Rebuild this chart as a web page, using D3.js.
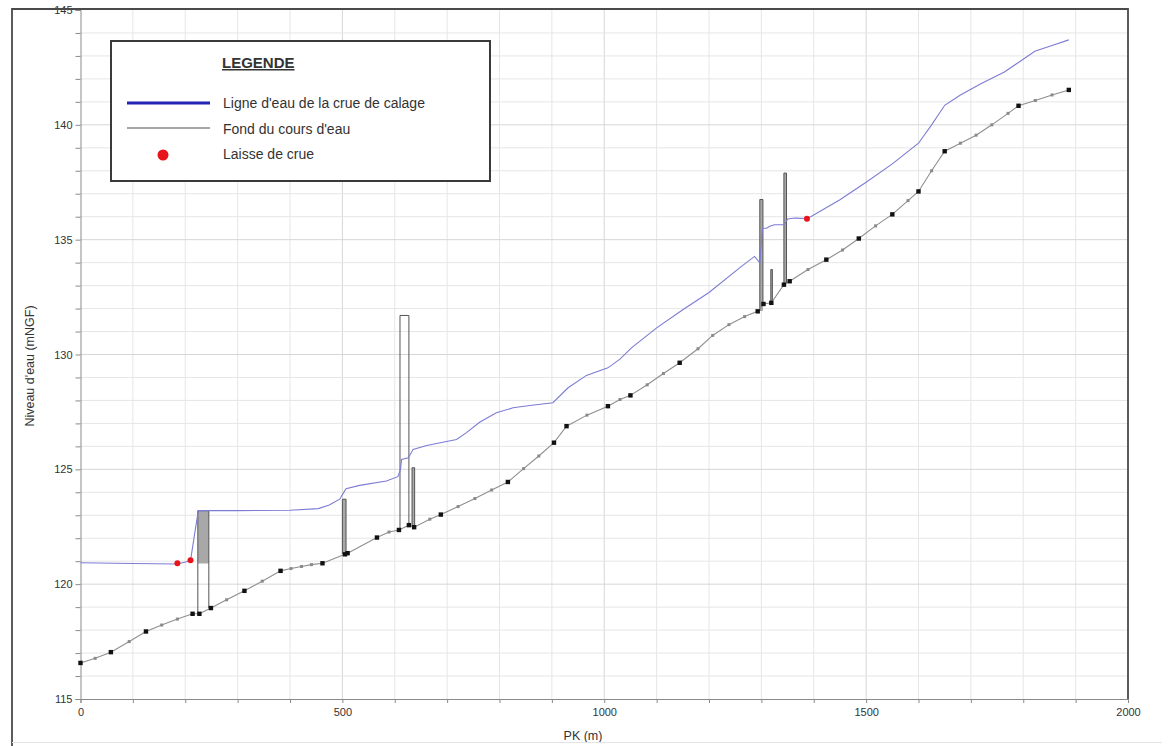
<!DOCTYPE html>
<html>
<head>
<meta charset="utf-8">
<script src="https://cdn.jsdelivr.net/npm/d3@7"></script>
<style>
  html, body { margin: 0; padding: 0; background: #fff; }
  svg { display: block; font-family: "Liberation Sans", Arial, sans-serif; }
</style>
</head>
<body>
<svg id="chart" width="1168" height="746"></svg>
<script>
// Longitudinal profile: water line of the calibration flood, river bed, flood marks, structures.

// Water line (PK in m, level in mNGF)
const waterPk = [0, 100, 185, 210, 218, 225, 300, 400, 454, 475, 495, 500, 507, 533, 584, 606, 611, 613, 626, 635, 661, 718, 737, 762, 794, 826, 858, 902, 931, 966, 1007, 1030, 1052, 1100, 1150, 1200, 1259, 1287, 1297, 1300, 1302, 1310, 1316, 1325, 1344, 1350, 1364, 1386, 1395, 1450, 1500, 1550, 1600, 1625, 1650, 1680, 1720, 1764, 1793, 1822, 1855, 1887];
const waterZ  = [120.93, 120.90, 120.88, 121.02, 122.2, 123.20, 123.20, 123.22, 123.29, 123.45, 123.70, 123.90, 124.16, 124.30, 124.49, 124.68, 125.0, 125.43, 125.50, 125.87, 126.04, 126.30, 126.60, 127.05, 127.46, 127.68, 127.78, 127.90, 128.55, 129.09, 129.42, 129.80, 130.29, 131.16, 131.95, 132.70, 133.78, 134.27, 133.99, 134.9, 135.50, 135.50, 135.58, 135.65, 135.65, 135.90, 135.94, 135.92, 136.01, 136.74, 137.50, 138.30, 139.20, 140.00, 140.85, 141.30, 141.80, 142.30, 142.75, 143.20, 143.45, 143.70];

// River bed (PK in m, level in mNGF) and profile kind (1 = surveyed section, 0 = interpolated)
const bedPk = [0, 28, 58, 93, 125, 155, 185, 214, 227, 249, 279, 313, 347, 382, 402, 422, 441, 462, 505, 510, 566, 589, 608, 627, 637, 667, 688, 721, 753, 785, 816, 846, 875, 904, 928, 967, 1007, 1030, 1050, 1082, 1113, 1144, 1179, 1207, 1238, 1268, 1293, 1304, 1319, 1343, 1354, 1389, 1424, 1455, 1486, 1518, 1550, 1580, 1600, 1625, 1650, 1680, 1710, 1740, 1771, 1791, 1823, 1855, 1887];
const bedZ  = [116.57, 116.77, 117.04, 117.50, 117.94, 118.22, 118.48, 118.71, 118.71, 118.96, 119.32, 119.71, 120.13, 120.58, 120.68, 120.77, 120.85, 120.91, 121.30, 121.35, 122.03, 122.27, 122.36, 122.57, 122.48, 122.83, 123.03, 123.38, 123.73, 124.10, 124.45, 125.03, 125.58, 126.16, 126.88, 127.36, 127.75, 128.04, 128.22, 128.68, 129.17, 129.64, 130.25, 130.83, 131.30, 131.65, 131.88, 132.20, 132.25, 133.04, 133.19, 133.70, 134.13, 134.55, 135.05, 135.60, 136.10, 136.70, 137.10, 138.00, 138.85, 139.20, 139.55, 140.00, 140.50, 140.83, 141.06, 141.30, 141.52];
const bedKind = [1, 0, 1, 0, 1, 0, 0, 1, 1, 1, 0, 1, 0, 1, 0, 0, 0, 1, 1, 1, 1, 0, 1, 1, 1, 0, 1, 0, 0, 0, 1, 0, 0, 1, 1, 0, 1, 0, 1, 0, 0, 1, 0, 0, 0, 0, 1, 1, 1, 1, 1, 0, 1, 0, 1, 0, 1, 0, 1, 0, 1, 0, 0, 0, 0, 1, 0, 0, 1];

// Flood marks (laisses de crue)
const markPk = [185, 210, 1387];
const markZ  = [120.91, 121.04, 135.91];

// Structures: upstream / downstream PK, bed level at each side, top level, level where the deck starts (null = open)
const structPk0   = [224, 500, 610, 633, 1297, 1318, 1343];
const structPk1   = [245, 507, 627, 638, 1303, 1321, 1348];
const structBase0 = [118.71, 121.30, 122.36, 122.50, 131.90, 132.30, 133.04];
const structBase1 = [118.96, 121.35, 122.57, 122.48, 132.20, 132.30, 133.10];
const structTop   = [123.20, 123.70, 131.70, 125.07, 136.75, 133.70, 137.90];
const structDeck  = [120.90, 121.30, null, 122.48, 131.90, 132.30, 133.04];

// Axis ticks
const xTickLabels = [0, 500, 1000, 1500, 2000];
const yTickLabels = [115, 120, 125, 130, 135, 140, 145];

// Legend entries
const legendTitle = "LEGENDE";
const legendItems = ["Ligne d'eau de la crue de calage", "Fond du cours d'eau", "Laisse de crue"];
const xTitle = "PK (m)";
const yTitle = "Niveau d'eau (mNGF)";

const svg = d3.select("#chart");
const x = d3.scaleLinear().domain([0, 2000]).range([80.5, 1128]);
const y = d3.scaleLinear().domain([115, 145]).range([699, 10]);

// Grid
const grid = svg.append("g");
grid.selectAll("line.gx").data(d3.range(100, 2000, 100)).join("line")
  .attr("x1", d => x(d)).attr("x2", d => x(d))
  .attr("y1", y(115)).attr("y2", y(145))
  .attr("stroke", d => d % 500 === 0 ? "#d6d6d6" : "#e6e6e6").attr("stroke-width", 1);
grid.selectAll("line.gy").data(d3.range(116, 145, 1)).join("line")
  .attr("x1", x(0)).attr("x2", x(2000))
  .attr("y1", d => y(d)).attr("y2", d => y(d))
  .attr("stroke", d => d % 5 === 0 ? "#d6d6d6" : "#e6e6e6").attr("stroke-width", 1);

// Axes
const xAxis = d3.axisBottom(x).tickValues(d3.range(0, 2001, 100)).tickSize(4)
  .tickFormat(d => xTickLabels.includes(d) ? d : "");
const gx = svg.append("g").attr("transform", `translate(0,${y(115)})`).call(xAxis);
gx.select(".domain").attr("stroke", "#8a8a8a");
gx.selectAll(".tick line").attr("stroke", "#8a8a8a");
gx.selectAll(".tick text").attr("font-size", 11).attr("fill", "#333").attr("dy", "0.95em")
  .attr("font-family", "Liberation Sans, Arial, sans-serif");

const yAxis = d3.axisLeft(y).tickValues(d3.range(115, 146, 1)).tickSize(5)
  .tickFormat(d => yTickLabels.includes(d) ? d : "");
const gy = svg.append("g").attr("transform", `translate(${x(0)},0)`).call(yAxis);
gy.select(".domain").attr("stroke", "#8a8a8a");
gy.selectAll(".tick line").attr("stroke", "#8a8a8a");
gy.selectAll(".tick text").attr("font-size", 11).attr("fill", "#333")
  .attr("font-family", "Liberation Sans, Arial, sans-serif");

// Structures
const structs = structPk0.map((p, i) => ({
  x0: p, x1: structPk1[i], b0: structBase0[i], b1: structBase1[i], top: structTop[i], deck: structDeck[i]
}));
const sg = svg.append("g");
structs.forEach(s => {
  if (s.deck !== null) {
    sg.append("rect")
      .attr("x", x(s.x0)).attr("width", x(s.x1) - x(s.x0))
      .attr("y", y(s.top)).attr("height", y(s.deck) - y(s.top))
      .attr("fill", "#a8a8a8");
  }
  sg.append("path")
    .attr("d", d3.line()([[x(s.x0), y(s.b0)], [x(s.x0), y(s.top)], [x(s.x1), y(s.top)], [x(s.x1), y(s.b1)]]))
    .attr("fill", "none").attr("stroke", "#555").attr("stroke-width", 1);
});

// Bed line
const bed = bedPk.map((p, i) => [p, bedZ[i], bedKind[i]]);
svg.append("path").datum(bed)
  .attr("d", d3.line().x(d => x(d[0])).y(d => y(d[1])))
  .attr("fill", "none").attr("stroke", "#8f8f8f").attr("stroke-width", 1.1);
svg.append("g").selectAll("rect").data(bed).join("rect")
  .attr("x", d => x(d[0]) - (d[2] ? 2.2 : 1.5))
  .attr("y", d => y(d[1]) - (d[2] ? 2.2 : 1.5))
  .attr("width", d => d[2] ? 4.4 : 3).attr("height", d => d[2] ? 4.4 : 3)
  .attr("fill", d => d[2] ? "#111" : "#8a8a8a");

// Water line
const water = waterPk.map((p, i) => [p, waterZ[i]]);
svg.append("path").datum(water)
  .attr("d", d3.line().x(d => x(d[0])).y(d => y(d[1])))
  .attr("fill", "none").attr("stroke", "#7c7cd4").attr("stroke-width", 1.1);

// Flood marks
svg.append("g").selectAll("circle").data(markPk.map((p, i) => [p, markZ[i]])).join("circle")
  .attr("cx", d => x(d[0])).attr("cy", d => y(d[1])).attr("r", 3)
  .attr("fill", "#e8141c");

// Axis titles
svg.append("text").attr("x", 583).attr("y", 740).attr("text-anchor", "middle")
  .attr("font-size", 12.5).attr("fill", "#333").text(xTitle);
svg.append("text").attr("transform", "translate(34,366) rotate(-90)").attr("text-anchor", "middle")
  .attr("font-size", 12.5).attr("fill", "#333").text(yTitle);

// Outer frame (left, top, right)
svg.append("path").attr("d", d3.line()([[12, 746], [12, 9], [1128, 9], [1128, y(115)]]))
  .attr("fill", "none").attr("stroke", "#4a4a4a").attr("stroke-width", 1.8);
svg.append("line").attr("x1", 12).attr("x2", 1162).attr("y1", 742.5).attr("y2", 742.5)
  .attr("stroke", "#e4e4e4").attr("stroke-width", 1);

// Legend
const lg = svg.append("g");
lg.append("rect").attr("x", 111).attr("y", 41).attr("width", 379).attr("height", 140)
  .attr("fill", "#fff").attr("stroke", "#3a3a3a").attr("stroke-width", 2);
lg.append("text").attr("x", 222).attr("y", 68).attr("font-size", 15).attr("font-weight", "bold")
  .attr("fill", "#333").attr("text-decoration", "underline").text(legendTitle);
lg.append("line").attr("x1", 127).attr("x2", 210).attr("y1", 103).attr("y2", 103)
  .attr("stroke", "#2424b4").attr("stroke-width", 3);
lg.append("line").attr("x1", 127).attr("x2", 210).attr("y1", 128).attr("y2", 128)
  .attr("stroke", "#8a8a8a").attr("stroke-width", 1.5);
lg.append("circle").attr("cx", 163).attr("cy", 155).attr("r", 5.5).attr("fill", "#e8141c");
lg.selectAll("text.item").data(legendItems).join("text")
  .attr("x", 223).attr("y", (d, i) => 108 + i * 25.5)
  .attr("font-size", 14).attr("fill", "#333").text(d => d);
</script>
</body>
</html>
